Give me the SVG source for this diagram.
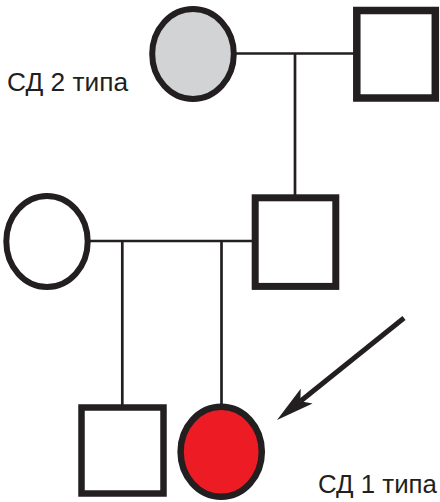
<svg xmlns="http://www.w3.org/2000/svg" width="440" height="502" viewBox="0 0 440 502">
  <style>
    .ln { stroke: #231F20; stroke-width: 2.7; fill: none; }
    .nd { stroke: #231F20; }
    .lbl { font-family: "Liberation Sans", Arial, sans-serif; font-size: 25px; fill: #231F20; }
  </style>
  <defs>
    <marker id="head" viewBox="0 -10 40 20" markerWidth="40" markerHeight="20" markerUnits="userSpaceOnUse" refX="10" refY="0" orient="auto">
      <path d="M40,0 L2,-9.5 L10,0 L2,9.5 Z" fill="#231F20"/>
    </marker>
  </defs>
  <rect width="440" height="502" fill="#ffffff"/>
  <g id="connectors">
    <line class="ln" x1="236" y1="53.5" x2="354" y2="53.5"/>
    <line class="ln" x1="295" y1="53.5" x2="295" y2="196"/>
    <line class="ln" x1="89" y1="241" x2="253" y2="241"/>
    <line class="ln" x1="122.3" y1="241" x2="122.3" y2="406"/>
    <line class="ln" x1="221.5" y1="241" x2="221.5" y2="405"/>
  </g>
  <g id="grandmother">
    <ellipse class="nd" cx="193" cy="54" rx="40.8" ry="45" fill="#D1D3D4" stroke-width="6"/>
  </g>
  <g id="grandfather">
    <rect class="nd" x="356.8" y="10.5" width="78.5" height="87.5" fill="#ffffff" stroke-width="7.5"/>
  </g>
  <g id="mother">
    <ellipse class="nd" cx="47" cy="241.5" rx="40.7" ry="45.5" fill="#ffffff" stroke-width="6"/>
  </g>
  <g id="father">
    <rect class="nd" x="255.2" y="197.8" width="80.6" height="88.6" fill="#ffffff" stroke-width="7"/>
  </g>
  <g id="son">
    <rect class="nd" x="81.5" y="407.5" width="82" height="86" fill="#ffffff" stroke-width="6.5"/>
  </g>
  <g id="proband">
    <ellipse class="nd" cx="221.2" cy="451.8" rx="40.6" ry="45" fill="#ED1C24" stroke-width="6.5"/>
  </g>
  <g id="arrow">
    <line x1="404" y1="318" x2="300.4" y2="401.2" stroke="#231F20" stroke-width="5" marker-end="url(#head)"/>
  </g>
  <g id="labels">
    <text class="lbl" x="7" y="90.7" textLength="121" lengthAdjust="spacingAndGlyphs">СД 2 типа</text>
    <text class="lbl" x="318" y="493" textLength="119" lengthAdjust="spacingAndGlyphs">СД 1 типа</text>
  </g>
</svg>
